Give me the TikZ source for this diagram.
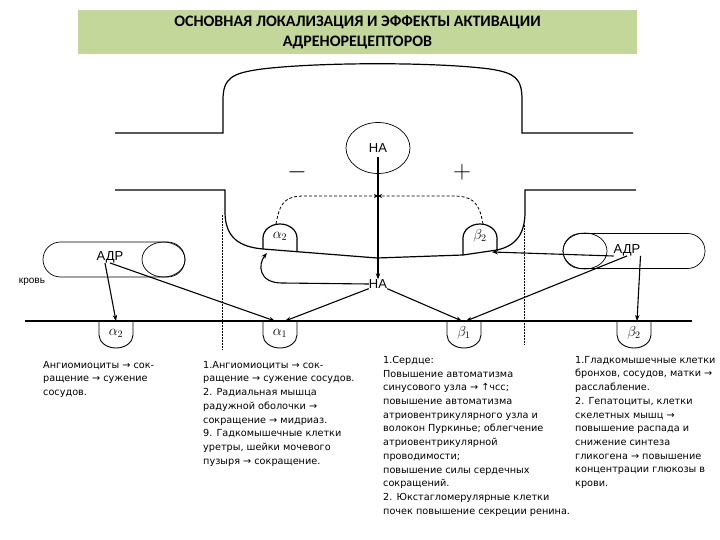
\documentclass[tikz,border=0pt]{standalone}
\usepackage{fontspec}
\setmainfont{DejaVu Sans}
\newfontfamily\titlefont{Carlito}
\newfontfamily\labelfont{Liberation Sans}
\usetikzlibrary{arrows.meta, shapes.geometric, shapes.misc}
\definecolor{titlegreen}{RGB}{196,215,155}

\begin{document}
\begin{tikzpicture}[
  x=1pt, y=-1pt,
  every node/.style={inner sep=0pt},
  titlebox/.style={fill=titlegreen, minimum width=559pt, minimum height=44pt,
                   align=center, font=\titlefont\bfseries\fontsize{16}{20}\selectfont},
  note/.style={anchor=north west, align=left, font=\fontsize{9.7}{13.7}\selectfont},
  lbl/.style={font=\labelfont\fontsize{13}{13}\selectfont},
  rcp/.style={font=\Large},
  sign/.style={font=\fontsize{28}{28}\selectfont},
  capsule/.style={draw, rounded rectangle, minimum width=142pt, minimum height=35pt, line width=0.7pt},
  vesicle/.style={draw, ellipse, line width=0.7pt},
  mem/.style={line width=1.2pt},
  cup/.style={line width=0.9pt},
  link/.style={-{Stealth[length=6pt,width=4.5pt]}, line width=1.1pt},
  fbk/.style={dash pattern=on 3pt off 2pt, -{Stealth[length=4pt,width=4pt]}, line width=0.8pt},
  sep/.style={densely dotted, line width=0.5pt}
]
\useasboundingbox[fill=white] (0,0) rectangle (720,540);

\node[titlebox] (title) at (357.5,32)
  {ОСНОВНАЯ ЛОКАЛИЗАЦИЯ И ЭФФЕКТЫ АКТИВАЦИИ\\АДРЕНОРЕЦЕПТОРОВ};

% terminal
\draw[mem] (115,133) -- (223,133) -- (223,100)
  .. controls (223,78) and (232,73) .. (262,69)
  .. controls (320,62) and (436,62) .. (490,69)
  .. controls (515,73) and (522,78) .. (522,100) -- (522,133) -- (633,133);
\draw[mem] (115,190) -- (225,190) -- (225,212)
  .. controls (225,238) and (240,247) .. (263,249) -- (377,258) -- (463,255) -- (497,250)
  .. controls (515,246) and (525,235) .. (525,212) -- (525,190) -- (636,190);
\draw[sep] (222,215) -- (222,350);
\draw[sep] (524,225) -- (524,345);

% presynaptic receptors
\draw[mem] (263,249) -- (263,238) arc[start angle=180, end angle=360, x radius=17, y radius=14] -- (297,252);
\draw[mem] (463,255) -- (463,238) arc[start angle=180, end angle=360, x radius=17, y radius=14] -- (497,250);
\node[rcp] (a2pre) at (280,236) {$\alpha_2$};
\node[rcp] (b2pre) at (480,236) {$\beta_2$};
\coordinate (a2top) at (276,224);
\coordinate (b2top) at (483,224);
\coordinate (a2foot) at (267,253);
\coordinate (b2foot) at (492,252);

\node[vesicle, minimum width=64pt, minimum height=51pt, lbl] (ves) at (378,148) {НА};
\node[sign] (minus) at (297,172) {$-$};
\node[sign] (plus) at (462,172) {$+$};
\node[lbl] (na) at (378,284) {НА};
\coordinate (fb) at (378,196);

\draw[fbk] (a2top) .. controls (280,201) and (286,196) .. (305,196) -- (fb);
\draw[fbk] (b2top) .. controls (479,201) and (472,196) .. (452,196) -- (fb);
\draw[link] ([yshift=-9pt]ves.center) -- (na.north);
\draw[link] (na.west) -- (282,283) .. controls (258,283) and (258,264) .. (a2foot);

% blood
\node[capsule] (capL) at (114,259.5) {};
\node[vesicle, minimum width=43pt, minimum height=35pt] (vesL) at (163.5,259.5) {};
\node[lbl] (adrL) at (110,257) {АДР};
\node[capsule] (capR) at (634,251) {};
\node[vesicle, minimum width=44pt, minimum height=36pt] (vesR) at (585,251) {};
\node[lbl] (adrR) at (627,250) {АДР};
\node[font=\labelfont\fontsize{10}{10}\selectfont] (blood) at (32,282) {кровь};

% postsynaptic membrane
\draw[mem] (25,321) -- (692,321);
\foreach \x/\n/\t in {116/a2/\alpha_2, 280/a1/\alpha_1, 464/b1/\beta_1, 634/b2/\beta_2}{
  \draw[cup] (\x-17,321) -- (\x-17,335)
    arc[start angle=180, end angle=0, x radius=17, y radius=13] -- (\x+17,321);
  \node[rcp] (\n) at (\x,333) {$\t$};
  \coordinate (\n m) at (\x,321);
}

\draw[link] ([xshift=-5pt]adrL.south) -- (a2m);
\draw[link] (adrL.south) -- ([xshift=-5pt]a1m);
\draw[link] (na.south west) -- ([xshift=5pt]a1m);
\draw[link] (na.south east) -- ([xshift=-2pt]b1m);
\draw[link] ([yshift=-6pt]adrR.west) -- (b2foot);
\draw[link] (adrR.south) -- ([xshift=2pt]b1m);
\draw[link] (adrR.south east) -- ([xshift=3pt]b2m);

% effects
\node[note] (ta2) at (43,361) {Ангиомиоциты → сок-\\ращение → сужение\\сосудов.};
\node[note] (ta1) at (203,361) {1.Ангиомиоциты → сок-\\ращение → сужение сосудов.\\2. Радиальная мышца\\радужной оболочки →\\сокращение → мидриаз.\\9. Гадкомышечные клетки\\уретры, шейки мочевого\\пузыря → сокращение.};
\node[note] (tb1) at (383,356) {1.Сердце:\\Повышение автоматизма\\синусового узла → ↑чсс;\\повышение автоматизма\\атриовентрикулярного узла и\\волокон Пуркинье; облегчение\\атриовентрикулярной\\проводимости;\\повышение силы сердечных\\сокращений.\\2. Юкстагломерулярные клетки\\почек повышение секреции ренина.};
\node[note] (tb2) at (575,356) {1.Гладкомышечные клетки\\бронхов, сосудов, матки →\\расслабление.\\2. Гепатоциты, клетки\\скелетных мышц →\\повышение распада и\\снижение синтеза\\гликогена → повышение\\концентрации глюкозы в\\крови.};
\end{tikzpicture}
\end{document}
